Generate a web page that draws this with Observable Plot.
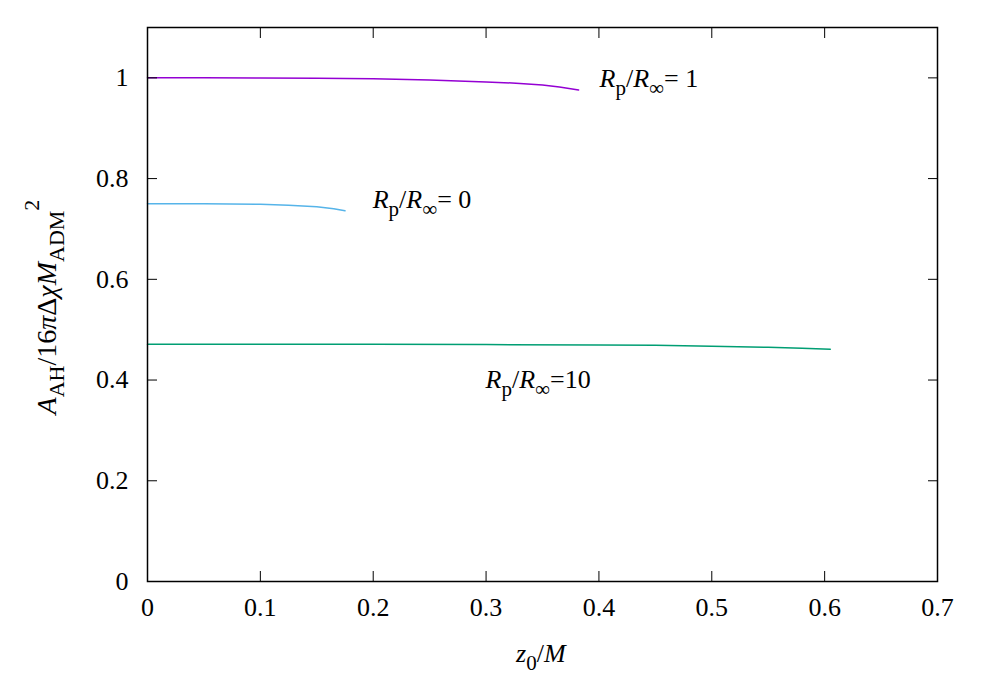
<!DOCTYPE html>
<html>
<head>
<meta charset="utf-8">
<script src="https://cdn.jsdelivr.net/npm/d3@7"></script>
<script src="https://cdn.jsdelivr.net/npm/@observablehq/plot@0.6"></script>
<style>
  html, body { margin: 0; padding: 0; background: #fff; }
</style>
</head>
<body>
<div id="chart"></div>
<script>
// Series: R_p/R_inf = 1 (purple)
const z1 = [0, 0.05, 0.1, 0.15, 0.2, 0.25, 0.3, 0.33, 0.35, 0.365, 0.382];
const a1 = [1.0, 1.0, 0.9995, 0.999, 0.998, 0.996, 0.992, 0.989, 0.986, 0.982, 0.976];
// Series: R_p/R_inf = 0 (blue)
const z0 = [0, 0.05, 0.1, 0.125, 0.15, 0.165, 0.175];
const a0 = [0.75, 0.75, 0.749, 0.747, 0.744, 0.740, 0.736];
// Series: R_p/R_inf = 10 (green)
const z10 = [0, 0.1, 0.2, 0.3, 0.4, 0.45, 0.5, 0.55, 0.58, 0.605];
const a10 = [0.471, 0.471, 0.471, 0.4705, 0.4695, 0.469, 0.467, 0.465, 0.463, 0.461];

const xTicks = [0, 0.1, 0.2, 0.3, 0.4, 0.5, 0.6, 0.7];
const yTicks = [0, 0.2, 0.4, 0.6, 0.8, 1];
const xTickLabels = ["0", "0.1", "0.2", "0.3", "0.4", "0.5", "0.6", "0.7"];
const yTickLabels = ["0", "0.2", "0.4", "0.6", "0.8", "1"];

// Curve labels: [x, y, value text]
const labelX = [0.401, 0.200, 0.300];
const labelY = [0.980, 0.740, 0.383];
const labelVal = ["= 1", "= 0", "=10"];

const colors = ["#9400d3", "#56b4e9", "#009e73"];

const toRows = (zs, as) => zs.map((z, i) => ({z, a: as[i]}));

const FONT = '"Liberation Serif", "Times New Roman", Times, serif';
const fontSize = 26;
const subSize = 21;
const chart = Plot.plot({
  width: 997,
  height: 698,
  marginLeft: 147,
  marginRight: 60,
  marginTop: 27,
  marginBottom: 117,
  x: {domain: [0, 0.7]},
  y: {domain: [0, 1.1]},
  style: {fontFamily: FONT, fontSize: fontSize + "px", color: "black", background: "white"},
  marks: [
    Plot.line(toRows(z1, a1), {x: "z", y: "a", stroke: colors[0], strokeWidth: 1.5}),
    Plot.line(toRows(z0, a0), {x: "z", y: "a", stroke: colors[1], strokeWidth: 1.5}),
    Plot.line(toRows(z10, a10), {x: "z", y: "a", stroke: colors[2], strokeWidth: 1.5}),
    Plot.axisX({ticks: xTicks, tickSize: -10, tickPadding: 26, tickFormat: (d, i) => xTickLabels[i], label: null, fontSize: fontSize}),
    Plot.axisX({anchor: "top", ticks: xTicks, tickSize: -10, tickFormat: () => "", label: null}),
    Plot.axisY({ticks: yTicks, tickSize: -10, tickPadding: 29, tickFormat: (d, i) => yTickLabels[i], label: null, fontSize: fontSize}),
    Plot.axisY({anchor: "right", ticks: yTicks, tickSize: -10, tickFormat: () => "", label: null}),
    Plot.frame({stroke: "black", strokeWidth: 1.5})
  ]
});
document.getElementById("chart").appendChild(chart);

const sx = chart.scale("x"), sy = chart.scale("y");
const svg = d3.select(chart);

function newText(size) {
  return svg.append("text")
    .attr("font-family", FONT)
    .attr("font-size", size || fontSize)
    .attr("fill", "black");
}

function ratioLabel(x, y, val) {
  const t = newText().attr("x", x).attr("y", y).attr("text-anchor", "start");
  t.append("tspan").attr("font-style", "italic").text("R");
  t.append("tspan").attr("dy", 8).attr("font-size", subSize).text("p");
  t.append("tspan").attr("dy", -8).text("/");
  t.append("tspan").attr("font-style", "italic").text("R");
  t.append("tspan").attr("dy", 8).attr("font-size", subSize).text("∞");
  t.append("tspan").attr("dy", -8).text(val);
}
labelX.forEach((lx, i) => ratioLabel(sx.apply(lx), sy.apply(labelY[i]), labelVal[i]));

// X axis label: z0/M
{
  const t = newText().attr("x", sx.apply(0.349)).attr("y", 662).attr("text-anchor", "middle");
  t.append("tspan").attr("font-style", "italic").text("z");
  t.append("tspan").attr("dy", 8).attr("font-size", subSize).text("0");
  t.append("tspan").attr("dy", -8).text("/");
  t.append("tspan").attr("font-style", "italic").text("M");
}
// Y axis label
{
  const cy = sy.apply(0.544);
  const t = newText(28).attr("transform", `translate(56,${cy}) rotate(-90)`).attr("text-anchor", "middle");
  t.append("tspan").attr("font-style", "italic").text("A");
  t.append("tspan").attr("dy", 8).attr("font-size", 22).text("AH");
  t.append("tspan").attr("dy", -8).text("/16");
  t.append("tspan").attr("font-style", "italic").text("π");
  t.append("tspan").text("Δ");
  t.append("tspan").attr("font-style", "italic").text("χM");
  t.append("tspan").attr("dy", 8).attr("font-size", 22).text("ADM");
  t.append("tspan").attr("dy", -25).attr("font-size", 22).text("2");
}
</script>
</body>
</html>
